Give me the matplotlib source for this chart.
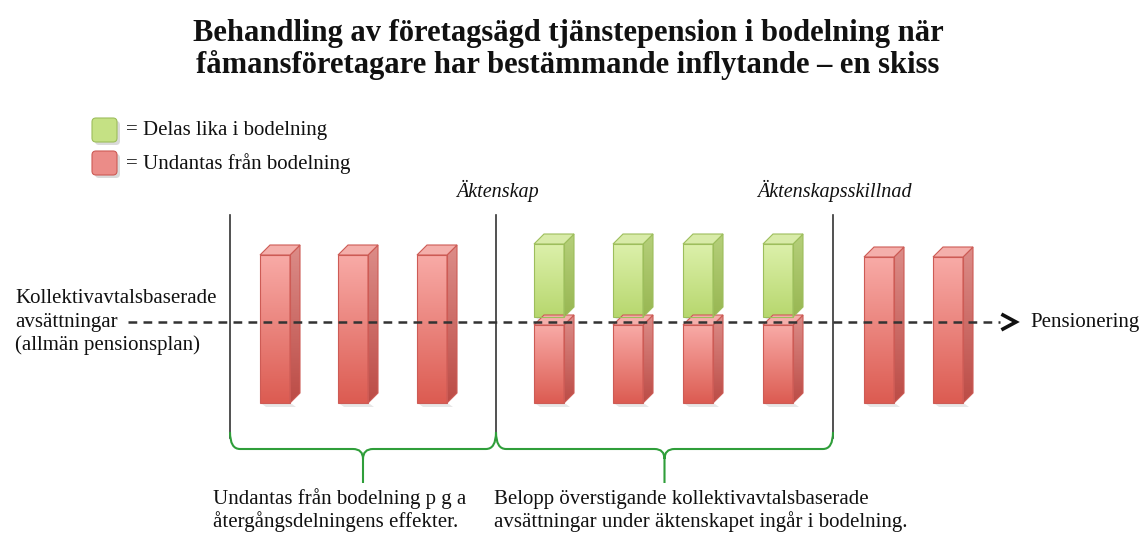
import numpy as np
import matplotlib
matplotlib.use("Agg")
import matplotlib.pyplot as plt
from matplotlib.patches import Polygon, FancyBboxPatch, PathPatch
from matplotlib.path import Path

plt.rcParams['font.family'] = ['Liberation Serif', 'DejaVu Serif']

# schematic data: bar positions along the time line (pixel columns) and heights
bar_time = [260, 338, 417, 534, 613, 683, 763, 864, 933]
red_height = [148, 148, 148, 78, 78, 78, 78, 146, 146]
green_height = [0, 0, 0, 73, 73, 73, 73, 0, 0]
events = ["Äktenskap", "Äktenskapsskillnad"]
event_time = [496, 833]
legend_labels = ["= Delas lika i bodelning", "= Undantas från bodelning"]
left_lines = ["Kollektivavtalsbaserade", "avsättningar", "(allmän pensionsplan)"]
note_left = ["Undantas från bodelning p g a", "återgångsdelningens effekter."]
note_right = ["Belopp överstigande kollektivavtalsbaserade",
              "avsättningar under äktenskapet ingår i bodelning."]

BASE = 403
W, D = 30, 10
RED = dict(front=("#F8AAA6", "#DC5C52"), side=("#DC8C88", "#BC4C46"),
           top="#F4AFAB", edge="#CD5B55")
GREEN = dict(front=("#DCF0AA", "#B7D76E"), side=("#B5CF7A", "#98B752"),
             top="#D8EBA8", edge="#9DBE5C")

fig = plt.figure(figsize=(11.42, 5.33), dpi=100)
ax = fig.add_axes([0, 0, 1, 1])
ax.set_xlim(0, 1142)
ax.set_ylim(533, 0)
ax.axis('off')


def grad_img(c1, c2):
    a = np.array(matplotlib.colors.to_rgb(c1))
    b = np.array(matplotlib.colors.to_rgb(c2))
    t = np.linspace(0, 1, 64)[:, None]
    return (a + (b - a) * t)[:, None, :]


def box(x, bottom, h, sty):
    top = bottom - h
    # front face
    ax.imshow(grad_img(*sty["front"]), extent=(x, x + W, bottom, top),
              aspect='auto', zorder=3, interpolation='bilinear')
    ax.add_patch(Polygon([(x, bottom), (x + W, bottom), (x + W, top), (x, top)],
                         closed=True, fill=False, ec=sty["edge"], lw=0.8, zorder=4))
    # side face
    side = Polygon([(x + W, bottom), (x + W + D, bottom - D), (x + W + D, top - D), (x + W, top)],
                   closed=True, fill=False, ec=sty["edge"], lw=0.8, zorder=4)
    ax.add_patch(side)
    im = ax.imshow(grad_img(*sty["side"]), extent=(x + W, x + W + D, bottom, top - D),
                   aspect='auto', zorder=3, interpolation='bilinear')
    im.set_clip_path(side)
    # top face
    ax.add_patch(Polygon([(x, top), (x + W, top), (x + W + D, top - D), (x + D, top - D)],
                         closed=True, fc=sty["top"], ec=sty["edge"], lw=0.8, zorder=4))
    # soft shadow
    ax.add_patch(Polygon([(x + 2, bottom + 1), (x + W + 2, bottom + 1), (x + W + 6, bottom + 4), (x + 6, bottom + 4)],
                         closed=True, fc="#00000018", ec="none", zorder=2))
    return top


for x, rh, gh in zip(bar_time, red_height, green_height):
    top = box(x, BASE, rh, RED)
    if gh > 0:
        box(x, top - D + 2, gh, GREEN)

# title
ax.text(568, 41, "Behandling av företagsägd tjänstepension i bodelning när",
        ha='center', va='baseline', fontsize=22, fontweight='bold', color='#111111')
ax.text(568, 73, "fåmansföretagare har bestämmande inflytande – en skiss",
        ha='center', va='baseline', fontsize=22, fontweight='bold', color='#111111')

# legend
for y0, sty, lab in zip([118, 151], [GREEN, RED], legend_labels):
    fc = "#C5E184" if sty is GREEN else "#EB8C88"
    ax.add_patch(FancyBboxPatch((95, y0 + 3), 25, 24, boxstyle="round,pad=0,rounding_size=4",
                                fc="#00000025", ec="none", zorder=2))
    ax.add_patch(FancyBboxPatch((92, y0), 25, 24, boxstyle="round,pad=0,rounding_size=4",
                                fc=fc, ec=sty["edge"], lw=0.8, zorder=3))
    ax.text(126, y0 + 13, lab, ha='left', va='center', fontsize=15, color='#111111')

# period boundaries
ax.plot([230, 230], [215, 438], color='#333333', lw=1.2, zorder=5)
for t, lab in zip(event_time, events):
    ax.plot([t, t], [215, 438], color='#333333', lw=1.2, zorder=5)
    ax.text(t + 1, 197, lab, ha='center', va='baseline', fontsize=14.5, style='italic', color='#111111')

# time line
ax.plot([128, 1000], [322, 322], color='#333333', lw=1.8, ls=(0, (3.5, 2.5)), zorder=6)
ax.plot([1003, 1016, 1003], [315, 322, 329], color='#111111', lw=2.6, zorder=6,
        solid_joinstyle='miter')
ax.text(1030, 323, "Pensionering", ha='left', va='center', fontsize=15, color='#111111')
for yb, s in zip([303, 327, 350], left_lines):
    ax.text(15, yb, s, ha='left', va='baseline', fontsize=15, color='#111111')


def brace(x0, x1, y_top=432, y=449, tip=483, r=10):
    xm = (x0 + x1) / 2
    verts = [(x0, y_top), (x0, y), (x0 + r, y), (xm - r, y), (xm, y), (xm, y + r), (xm, tip),
             (xm, y + r), (xm, y), (xm + r, y), (x1 - r, y), (x1, y), (x1, y_top)]
    codes = [Path.MOVETO, Path.CURVE3, Path.CURVE3, Path.LINETO, Path.CURVE3, Path.CURVE3, Path.LINETO,
             Path.MOVETO, Path.CURVE3, Path.CURVE3, Path.LINETO, Path.CURVE3, Path.CURVE3]
    ax.add_patch(PathPatch(Path(verts, codes), fill=False, ec='#2F9E3A', lw=1.5, zorder=5))


brace(230, event_time[0])
brace(event_time[0], event_time[1])

for yb, a, b in zip([504, 527], note_left, note_right):
    ax.text(213, yb, a, ha='left', va='baseline', fontsize=15, color='#111111')
    ax.text(494, yb, b, ha='left', va='baseline', fontsize=15, color='#111111')

fig.savefig("out.png", dpi=100, facecolor='white')
